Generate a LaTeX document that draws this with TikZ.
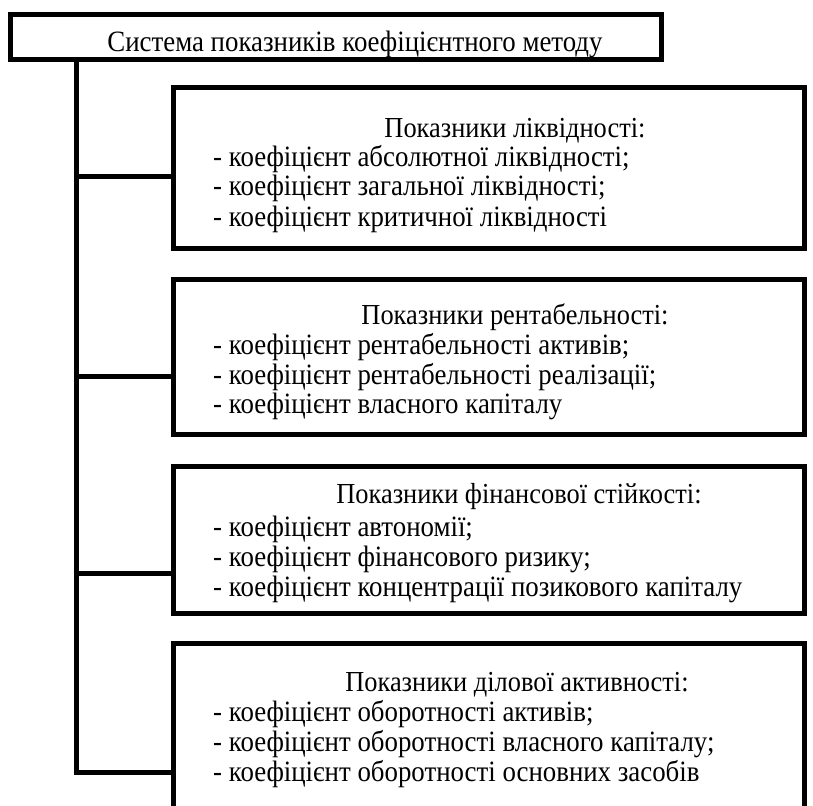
\documentclass[tikz,border=0pt]{standalone}
\usepackage{fontspec}
\setmainfont[FakeStretch=0.91]{Liberation Serif}
\begin{document}
\begin{tikzpicture}[x=1pt,y=-1pt,
  frame/.style={draw,line width=5pt,rectangle,inner sep=0pt,outer sep=0pt,anchor=north west,minimum width=631pt},
  conn/.style={line width=5pt},
  txt/.style={anchor=base west,inner sep=0pt,font=\fontsize{29.5}{30}\selectfont},
  head/.style={anchor=base,inner sep=0pt,font=\fontsize{29}{30}\selectfont},
  title/.style={anchor=base,inner sep=0pt,font=\fontsize{29.5}{30}\selectfont}]
\useasboundingbox (0,0) rectangle (813,805);
\clip (0,0) rectangle (813,805);
% boxes
\node[frame,minimum width=650.5pt,minimum height=44.5pt] (top) at (10.5,15) {};
\node[frame,minimum height=160.5pt] (b1) at (173.5,88) {};
\node[frame,minimum height=155pt] (b2) at (173.5,279) {};
\node[frame,minimum height=147pt] (b3) at (173.5,466) {};
\node[frame,minimum height=200pt] (b4) at (173.5,643) {};
% texts
\node[title] (t0) at (355,52) {Система показників коефіцієнтного методу};
\node[head] (h1) at (515,138) {Показники ліквідності:};
\node[txt] (l11) at (213,167) {- коефіцієнт абсолютної ліквідності;};
\node[txt] (l12) at (213,196) {- коефіцієнт загальної ліквідності;};
\node[txt] (l13) at (213,226) {- коефіцієнт критичної ліквідності};
\node[head] (h2) at (515,324) {Показники рентабельності:};
\node[txt] (l21) at (213,354) {- коефіцієнт рентабельності активів;};
\node[txt] (l22) at (213,384) {- коефіцієнт рентабельності реалізації;};
\node[txt] (l23) at (213,413) {- коефіцієнт власного капіталу};
\node[head] (h3) at (519,503) {Показники фінансової стійкості:};
\node[txt] (l31) at (213,536) {- коефіцієнт автономії;};
\node[txt] (l32) at (213,566) {- коефіцієнт фінансового ризику;};
\node[txt] (l33) at (213,596) {- коефіцієнт концентрації позикового капіталу};
\node[head] (h4) at (517,691) {Показники ділової активності:};
\node[txt] (l41) at (213,721) {- коефіцієнт оборотності активів;};
\node[txt] (l42) at (213,751) {- коефіцієнт оборотності власного капіталу;};
\node[txt] (l43) at (213,781) {- коефіцієнт оборотності основних засобів};
% connectors
\coordinate (trunk) at (76.5,0);
\coordinate (j1) at (173.5,176.5);
\coordinate (j2) at (173.5,376.5);
\coordinate (j3) at (173.5,573);
\coordinate (j4) at (173.5,772);
\draw[conn] (top.south -| trunk) |- (j4);
\draw[conn] (trunk |- j1) -- (j1);
\draw[conn] (trunk |- j2) -- (j2);
\draw[conn] (trunk |- j3) -- (j3);
\end{tikzpicture}
\end{document}
